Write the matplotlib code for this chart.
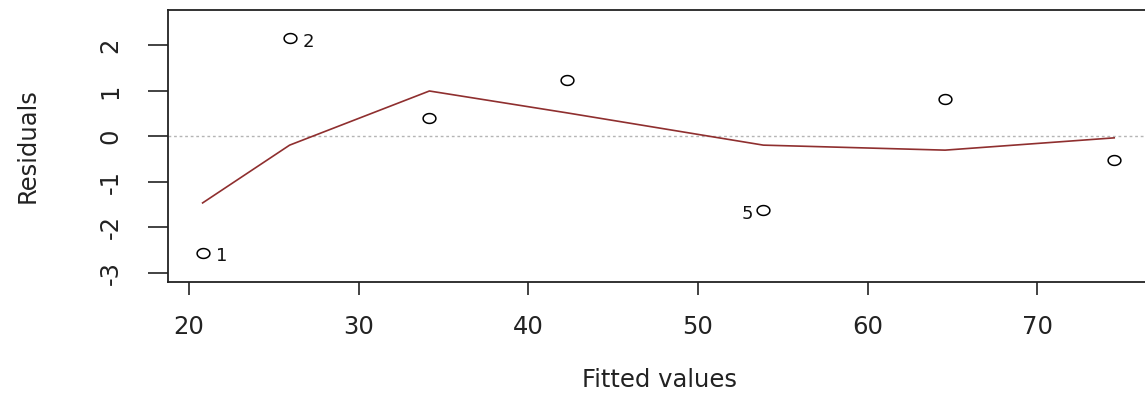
import numpy as np
import matplotlib
matplotlib.use("Agg")
import matplotlib.pyplot as plt
from matplotlib.path import Path

# ---- data ----
fitted = [20.80, 25.93, 34.17, 42.27, 53.86, 64.57, 74.54]
residuals = [-2.56, 2.16, 0.41, 1.24, -1.62, 0.82, -0.52]
smooth = [-1.46, -0.19, 1.00, 0.52, -0.19, -0.30, -0.03]
point_ids = ["1", "2", "", "", "5", "", ""]
x_ticks = [20, 30, 40, 50, 60, 70]
y_ticks = [-3, -2, -1, 0, 1, 2]
x_label = "Fitted values"
y_label = "Residuals"

plt.rcParams['font.family'] = ['DejaVu Sans']

W, H = 1145, 397
fig = plt.figure(figsize=(W / 100, H / 100), dpi=100)
fig.patch.set_facecolor('white')

left, right, top, bottom = 168, 1152, 10, 282
ax = fig.add_axes([left / W, (H - bottom) / H, (right - left) / W, (bottom - top) / H])

# slightly wide ellipse marker (reference is horizontally stretched)
t = np.linspace(0, 2 * np.pi, 60)
ell = Path(np.column_stack([1.3 * np.cos(t), np.sin(t)]), closed=True)

ax.axhline(0, color='#b5b5b5', lw=1.0, linestyle=(0, (2, 2)), zorder=1)
ax.plot(fitted, smooth, color='#8f2f2f', lw=1.2, zorder=2)
ax.plot(fitted, residuals, linestyle='none', marker=ell, markersize=9.2,
        markerfacecolor='none', markeredgecolor='black', markeredgewidth=1.1, zorder=3)

xmid = (min(fitted) + max(fitted)) / 2
for xv, yv, lab in zip(fitted, residuals, point_ids):
    if not lab:
        continue
    if xv > xmid:
        ax.annotate(lab, (xv, yv), xytext=(-11.5, -2.5), textcoords='offset points',
                    ha='center', va='center', fontsize=13, color='#111111')
    else:
        ax.annotate(lab, (xv, yv), xytext=(13.5, -2.5), textcoords='offset points',
                    ha='center', va='center', fontsize=13, color='#111111')

ax.set_xlim(18.76, 76.77)
ax.set_ylim(-3.198, 2.780)
ax.set_xticks(x_ticks)
ax.set_yticks(y_ticks)
ax.set_xticklabels([str(v) for v in x_ticks])
ax.set_yticklabels([str(v) for v in y_ticks])

for s in ['left', 'bottom', 'top', 'right']:
    ax.spines[s].set_linewidth(1.3)
    ax.spines[s].set_color('#222222')

ax.tick_params(axis='x', length=9.4, width=1.2, pad=14.6, labelsize=17.5,
               colors='#222222')
ax.tick_params(axis='y', length=14.4, width=1.2, pad=18.4, labelsize=17.5,
               labelrotation=90, colors='#222222')
for lb in ax.get_yticklabels():
    lb.set_va('center')
    lb.set_ha('right')

ax.set_xlabel(x_label, fontsize=17.5, color='#222222')
ax.set_ylabel(y_label, fontsize=17.5, color='#222222')
ax.xaxis.set_label_coords(0.5, (H - 380 - (H - bottom)) / (bottom - top))
ax.xaxis.label.set_va('center')
ax.yaxis.set_label_coords((28 - left) / (right - left), 0.5)
ax.yaxis.label.set_va('center')

fig.savefig('out.png', dpi=100, facecolor='white')
